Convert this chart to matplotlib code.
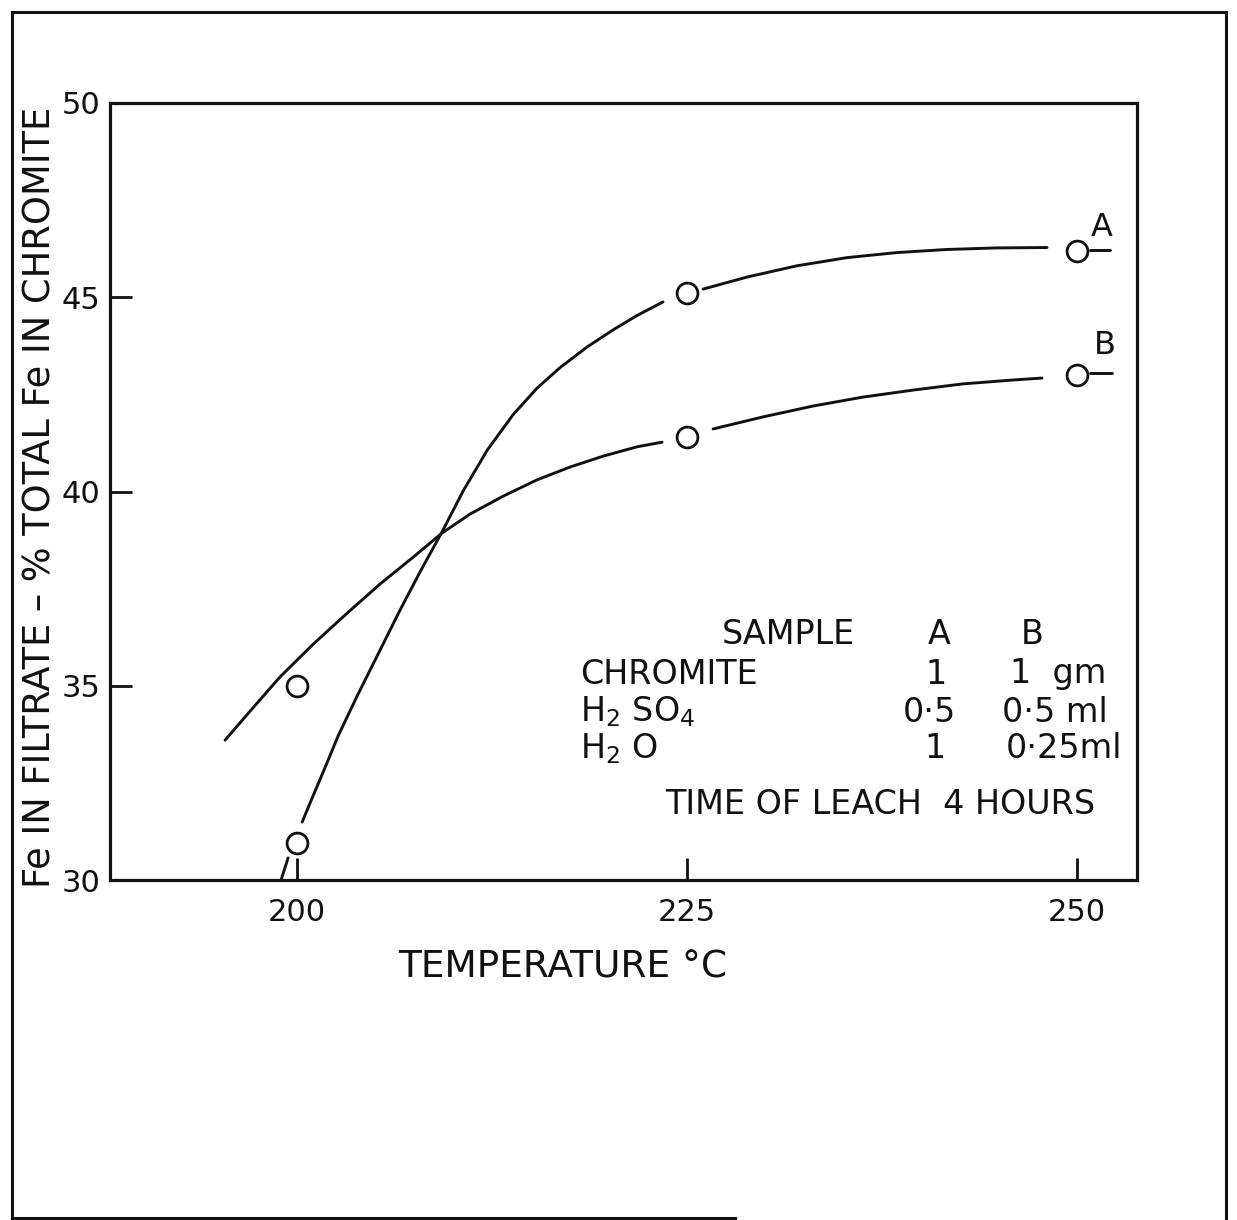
import matplotlib
matplotlib.use("Agg")
import matplotlib.pyplot as plt
from matplotlib.lines import Line2D

plt.rcParams['font.family'] = ['DejaVu Sans']

# ── Data ─────────────────────────────────────────────────────────────────────

temperature = [200, 225, 250]
fe_sample_a = [30.95, 45.1, 46.2]
fe_sample_b = [35.0, 41.4, 43.0]

# hand-drawn curves, traced piece by piece (they stop short of the circles)
curve_a_stub_x = [198.97, 199.42]
curve_a_stub_y = [30.0, 30.57]
curve_a_low_x = [200.32, 200.96, 201.67, 202.63, 203.85, 205.32, 206.60, 207.88, 209.29,
                 210.64, 212.18, 213.85, 215.38, 216.86, 218.59, 220.26, 221.79, 223.46]
curve_a_low_y = [31.49, 32.11, 32.78, 33.71, 34.74, 35.92, 36.95, 37.93, 38.96,
                 40.01, 41.06, 41.98, 42.66, 43.19, 43.72, 44.16, 44.53, 44.88]
curve_a_high_x = [226.03, 228.85, 232.05, 235.26, 238.46, 241.67, 244.87, 248.08]
curve_a_high_y = [45.21, 45.52, 45.81, 46.02, 46.15, 46.23, 46.27, 46.28]
curve_a_tail_x = [250.83, 252.12]
curve_a_tail_y = [46.22, 46.22]

curve_b_low_x = [195.38, 196.99, 198.91, 201.03, 203.21, 205.32, 207.44, 209.29,
                 211.09, 213.21, 215.38, 217.50, 219.62, 221.79, 223.40]
curve_b_low_y = [33.60, 34.35, 35.23, 36.07, 36.87, 37.62, 38.31, 38.93,
                 39.42, 39.88, 40.30, 40.63, 40.91, 41.15, 41.27]
curve_b_high_x = [226.67, 229.87, 233.08, 236.28, 239.49, 242.69, 245.90, 247.76]
curve_b_high_y = [41.61, 41.92, 42.20, 42.43, 42.61, 42.77, 42.87, 42.92]
curve_b_tail_x = [250.83, 252.24]
curve_b_tail_y = [43.05, 43.05]

x_ticks = [200, 225, 250]
y_ticks = [30, 35, 40, 45, 50]

table_rows = [
    ("CHROMITE", "1", "1  gm"),
    ("H$_2$ SO$_4$", "0·5", "0·5 ml"),
    ("H$_2$ O", "1", "0·25ml"),
]

# ── Figure ───────────────────────────────────────────────────────────────────

W, H = 1237, 1220
fig = plt.figure(figsize=(W / 100, H / 100), dpi=100)
fig.patch.set_facecolor('white')

AX_L, AX_R, AX_T, AX_B = 110, 1137, 103, 880
ax = fig.add_axes([AX_L / W, 1 - AX_B / H, (AX_R - AX_L) / W, (AX_B - AX_T) / H])

ink = '#111111'
lw = 2.1

for xs, ys in [(curve_a_stub_x, curve_a_stub_y), (curve_a_low_x, curve_a_low_y),
               (curve_a_high_x, curve_a_high_y), (curve_a_tail_x, curve_a_tail_y),
               (curve_b_low_x, curve_b_low_y), (curve_b_high_x, curve_b_high_y),
               (curve_b_tail_x, curve_b_tail_y)]:
    ax.plot(xs, ys, color=ink, lw=lw, solid_capstyle='round', solid_joinstyle='round')

for ys in (fe_sample_a, fe_sample_b):
    ax.plot(temperature, ys, ls='none', marker='o', ms=15, mfc='white',
            mec=ink, mew=2.0, zorder=3)

ax.text(251.6, 46.8, "A", fontsize=23, ha='center', va='center', color=ink)
ax.text(251.8, 43.75, "B", fontsize=23, ha='center', va='center', color=ink)

ax.set_xlim(188.0, 253.85)
ax.set_ylim(30, 50)
ax.set_xticks(x_ticks)
ax.set_yticks(y_ticks)
ax.tick_params(axis='both', direction='in', length=16, width=2, color=ink,
               labelsize=22, labelcolor=ink)
ax.tick_params(axis='x', pad=13)
ax.tick_params(axis='y', pad=7)
ax.tick_params(top=False, right=False)
for s in ax.spines.values():
    s.set_linewidth(2.3)
    s.set_color(ink)

ax.set_xlabel("TEMPERATURE °C", fontsize=27, color=ink)
ax.xaxis.set_label_coords((563 - AX_L) / (AX_R - AX_L), (AX_B - 967) / (AX_B - AX_T))
ax.xaxis.label.set_va('center')
ax.set_ylabel("Fe IN FILTRATE – % TOTAL Fe IN CHROMITE", fontsize=26.5, color=ink)
ax.yaxis.set_label_coords((40 - AX_L) / (AX_R - AX_L), (AX_B - 497) / (AX_B - AX_T))
ax.yaxis.label.set_va('center')


def at(px, py):
    """pixel position in the drawing -> axes fraction"""
    return (px - AX_L) / (AX_R - AX_L), (AX_B - py) / (AX_B - AX_T)


# conditions table
fs = 24
ax.text(*at(722, 634), "SAMPLE", transform=ax.transAxes, fontsize=fs, ha='left', va='center', color=ink)
ax.text(*at(939, 634), "A", transform=ax.transAxes, fontsize=fs, ha='center', va='center', color=ink)
ax.text(*at(1032, 634), "B", transform=ax.transAxes, fontsize=fs, ha='center', va='center', color=ink)
row_y = [674, 712, 749]
a_x = [936, 929, 935]
b_right = [1106, 1108, 1122]
for (name, a_val, b_val), y, ax_pos, bx in zip(table_rows, row_y, a_x, b_right):
    ax.text(*at(580, y), name, transform=ax.transAxes, fontsize=fs, ha='left', va='center', color=ink)
    ax.text(*at(ax_pos, y), a_val, transform=ax.transAxes, fontsize=fs, ha='center', va='center', color=ink)
    ax.text(*at(bx, y), b_val, transform=ax.transAxes, fontsize=fs, ha='right', va='center', color=ink)
ax.text(*at(880, 805), "TIME OF LEACH  4 HOURS", transform=ax.transAxes, fontsize=fs,
        ha='center', va='center', color=ink)

# outer frame of the drawing sheet
def frame_line(x0, y0, x1, y1):
    fig.add_artist(Line2D([x0 / W, x1 / W], [1 - y0 / H, 1 - y1 / H],
                          transform=fig.transFigure, color=ink, lw=2.2))

frame_line(12, 12, 1226, 12)
frame_line(12, 12, 12, 1218)
frame_line(1226, 12, 1226, 1218)
frame_line(12, 1218, 735, 1218)

fig.savefig("out.png", dpi=100, facecolor='white')
